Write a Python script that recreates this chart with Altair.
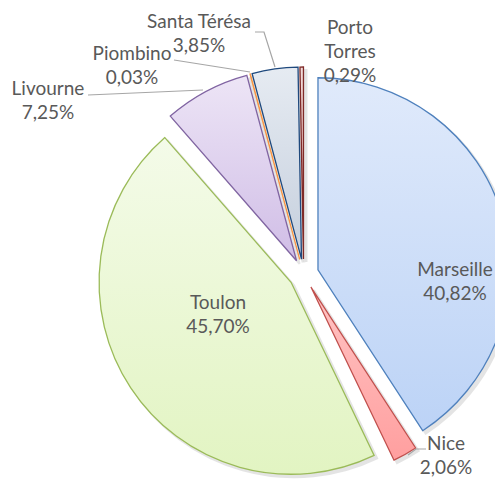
import altair as alt
import pandas as pd

# ---- data ----
ports = ["Marseille", "Nice", "Toulon", "Livourne", "Piombino", "Santa Térésa", "Porto Torres"]
shares = [40.82, 2.06, 45.70, 7.25, 0.03, 3.85, 0.29]
pct_text = ["40,82%", "2,06%", "45,70%", "7,25%", "0,03%", "3,85%", "0,29%"]
label_text = ["Marseille", "Nice", "Toulon", "Livourne", "Piombino", "Santa Térésa", "Porto\nTorres"]

# ---- styles ----
fill_top = ["#e0eafb", "#ffc4c4", "#f4fbe9", "#ede5f6", "#fcd5b4", "#e6ebf2", "#f2dcdb"]
fill_bot = ["#bcd3f6", "#ff9f9f", "#e2f4c2", "#d0bde6", "#f9b27a", "#c5cfdd", "#d99694"]
strokes = ["#4f81bd", "#c0504d", "#9bbb59", "#8064a2", "#f79646", "#1f497d", "#7f2a28"]
# label anchor (chart px, first line centre)
lab_x = [447, 438, 210, 40, 124, 191, 342]
lab_y = [262, 436, 295, 81, 46, 14, 20]
CX, CY, R, EXPLODE = 295.6, 266.0, 192, 15
LH = 24

df = pd.DataFrame({"port": ports, "share": shares, "pct": pct_text,
                   "name": label_text, "order": list(range(len(ports)))})

base = alt.Chart(df).transform_joinaggregate(
    total="sum(share)"
).transform_window(
    cum="sum(share)", sort=[alt.SortField("order")], frame=[None, 0]
).transform_calculate(
    t1="2*PI*datum.cum/datum.total",
    t0="2*PI*(datum.cum-datum.share)/datum.total",
).transform_calculate(
    mid="(datum.t0+datum.t1)/2"
).transform_calculate(
    cx=f"{CX}+{EXPLODE}*sin(datum.mid)",
    cy=f"{CY}-{EXPLODE}*cos(datum.mid)",
)

def arcs(dx, dy, fill, stroke, opacity, sw, port):
    return base.transform_filter(alt.datum.port == port).transform_calculate(
        sx=f"datum.cx+{dx}", sy=f"datum.cy+{dy}"
    ).mark_arc(outerRadius=R, fill=fill, stroke=stroke, strokeWidth=sw,
               opacity=opacity, strokeJoin="miter").encode(
        x=alt.X("sx:Q", scale=None, axis=None),
        y=alt.Y("sy:Q", scale=None, axis=None),
        theta=alt.Theta("t0:Q", scale=None),
        theta2="t1:Q",
    )

layers = []
for p in ports:
    layers.append(arcs(3, 3, "#000000", "#000000", 0.10, 2, p))
for i, p in enumerate(ports):
    grad = alt.LinearGradient(gradient="linear", x1=0, y1=0, x2=0, y2=1,
                              stops=[alt.GradientStop(color=fill_top[i], offset=0),
                                     alt.GradientStop(color=fill_bot[i], offset=1)])
    layers.append(arcs(0, 0, grad, strokes[i], 1, 1.3, p))

lab_df = pd.DataFrame({"txt": [label_text[i] + "\n" + pct_text[i] for i in range(len(ports))],
                       "lx": lab_x, "ly": lab_y})
labels = alt.Chart(lab_df).mark_text(
    font="Lato", fontSize=19, color="#595959", align="center", baseline="middle",
    lineBreak="\n", lineHeight=LH
).encode(
    x=alt.X("lx:Q", scale=None), y=alt.Y("ly:Q", scale=None), text="txt:N"
)

# leader lines (chart px)
lead_id = [0, 0, 0, 1, 1, 2, 2, 3, 3, 3]
lead_ord = [0, 1, 2, 0, 1, 0, 1, 0, 1, 2]
lead_x = [247, 256, 267, 166, 242, 80, 195, 400, 408, 418]
lead_y = [24, 24, 59, 52, 64, 87, 82, 447, 441, 441]
lead_df = pd.DataFrame({"id": lead_id, "o": lead_ord, "x": lead_x, "y": lead_y})
leaders = alt.Chart(lead_df).mark_line(color="#a6a6a6", strokeWidth=1.2).encode(
    x=alt.X("x:Q", scale=None), y=alt.Y("y:Q", scale=None),
    detail="id:N", order="o:Q"
)

chart = alt.layer(*layers, leaders, labels).properties(
    width=487, height=472, padding=0, autosize="none"
).configure_view(stroke=None)

chart.save("out.html", embed_options={"renderer": "svg", "actions": False})
